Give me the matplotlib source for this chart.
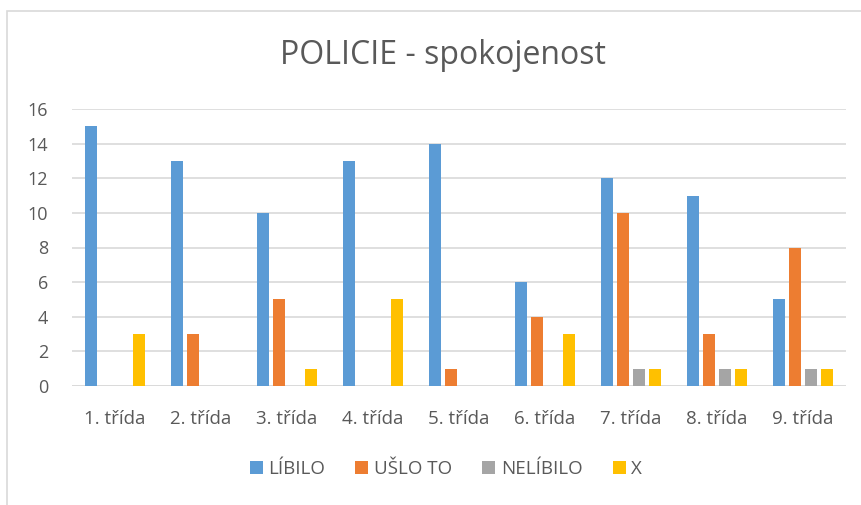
import matplotlib
matplotlib.use("Agg")
import matplotlib.pyplot as plt
import numpy as np
from matplotlib.patches import Rectangle

categories = ["1. třída", "2. třída", "3. třída", "4. třída", "5. třída",
              "6. třída", "7. třída", "8. třída", "9. třída"]
libilo = [15, 13, 10, 13, 14, 6, 12, 11, 5]
uslo_to = [0, 3, 5, 0, 1, 4, 10, 3, 8]
nelibilo = [0, 0, 0, 0, 0, 0, 1, 1, 1]
x_vals = [3, 0, 1, 5, 0, 3, 1, 1, 1]
series_names = ["LÍBILO", "UŠLO TO", "NELÍBILO", "X"]
colors = ["#5B9BD5", "#ED7D31", "#A5A5A5", "#FFC000"]
yticks = [0, 2, 4, 6, 8, 10, 12, 14, 16]

plt.rcParams['font.family'] = ['Open Sans', 'DejaVu Sans']
W, H = 862, 505
fig = plt.figure(figsize=(W / 100, H / 100), dpi=100)
ax = fig.add_axes([72 / W, 1 - 386 / H, (846 - 72) / W, (386 - 109) / H])

series = [libilo, uslo_to, nelibilo, x_vals]
idx = np.arange(len(categories))
slot = 0.183
bw = 0.14
for i, (vals, name, c) in enumerate(zip(series, series_names, colors)):
    ax.bar(idx + (i - 1.5) * slot, vals, width=bw, color=c, label=name, zorder=3)

ax.set_xlim(-0.5, len(categories) - 0.5)
ax.set_ylim(0, 16)
ax.set_yticks(yticks)
ax.set_xticks(idx)
ax.set_xticklabels(categories)
ax.tick_params(axis='both', length=0, labelsize=13, colors="#595959")
ax.tick_params(axis='x', pad=17, labelsize=13.5)
ax.tick_params(axis='y', pad=17)
ax.grid(axis='y', color="#D9D9D9", linewidth=1.2, zorder=0)
for s in ax.spines.values():
    s.set_visible(False)
ax.axhline(0, color="#D9D9D9", linewidth=1.2, zorder=2)

fig.text(443 / W, 1 - 55 / H, "POLICIE - spokojenost", ha='center', va='center',
         fontsize=23, color="#595959")

leg = fig.legend(loc='center', bbox_to_anchor=(446 / W, 1 - 469 / H), ncol=4,
                 frameon=False, fontsize=13.5, handlelength=0.7, handleheight=0.7,
                 handletextpad=0.3, columnspacing=1.6)
for t in leg.get_texts():
    t.set_color("#595959")

fig.patches.append(Rectangle((7.5 / W, -0.1), 1.2, 1 - 10.5 / H + 0.1,
                             transform=fig.transFigure, fill=False,
                             edgecolor="#D9D9D9", linewidth=1.2))

fig.savefig("out.png", dpi=100)
